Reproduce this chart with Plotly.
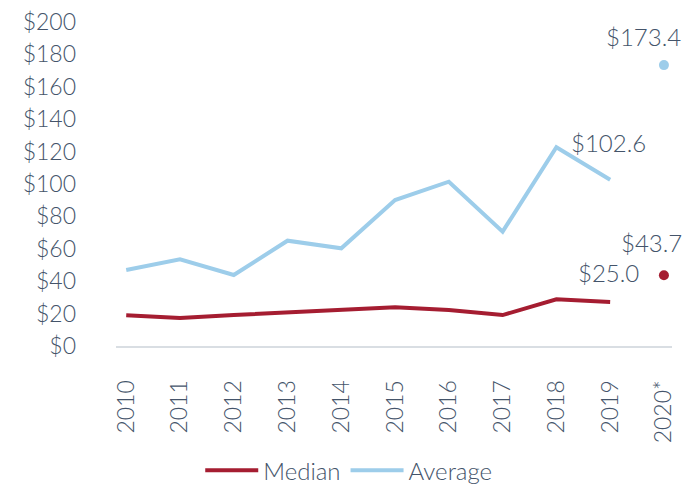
import plotly.graph_objects as go

categories = ["2010", "2011", "2012", "2013", "2014", "2015", "2016", "2017", "2018", "2019", "2020*"]
median_vals = [19.0, 17.3, 19.1, 20.8, 22.6, 23.9, 22.2, 19.1, 28.8, 27.2]
average_vals = [46.9, 53.5, 43.8, 65.0, 60.3, 90.1, 101.4, 70.6, 122.7, 102.6]
median_2020 = 43.7
average_2020 = 173.4
y_ticks = [0, 20, 40, 60, 80, 100, 120, 140, 160, 180, 200]

RED = "#A51D31"
BLUE = "#9DCDEA"
TXT = "#44546A"
FONT = "Lato Light, Lato, sans-serif"

idx = list(range(len(categories)))

fig = go.Figure()
fig.add_trace(go.Scatter(x=idx[:10], y=median_vals, mode="lines", name="Median",
                         line=dict(color=RED, width=4)))
fig.add_trace(go.Scatter(x=idx[:10], y=average_vals, mode="lines", name="Average",
                         line=dict(color=BLUE, width=4)))
fig.add_trace(go.Scatter(x=[idx[10]], y=[median_2020], mode="markers", showlegend=False,
                         marker=dict(color=RED, size=10)))
fig.add_trace(go.Scatter(x=[idx[10]], y=[average_2020], mode="markers", showlegend=False,
                         marker=dict(color=BLUE, size=10)))

labels = [
    (idx[10], average_2020, f"${average_2020:.1f}", -20, 29),
    (idx[9], average_vals[9], f"${average_vals[9]:.1f}", -2, 37),
    (idx[10], median_2020, f"${median_2020:.1f}", -12, 33),
    (idx[9], median_vals[9], "$25.0", -2, 29),
]
for x, y, t, xs, ys in labels:
    fig.add_annotation(x=x, y=y, text=t, showarrow=False, xshift=xs, yshift=ys,
                       font=dict(family=FONT, size=24, color=TXT))

fig.update_layout(
    width=700, height=493,
    margin=dict(l=108, r=36, t=14, b=155, autoexpand=False),
    paper_bgcolor="white", plot_bgcolor="white",
    font=dict(family=FONT, size=24, color=TXT),
    legend=dict(orientation="h", x=0.4186, xanchor="center", y=-0.385, yanchor="middle",
                font=dict(family=FONT, size=24, color=TXT), itemwidth=53),
    xaxis=dict(range=[-0.19, 10.15], tickvals=idx, ticktext=categories,
               showgrid=False, showline=True, linecolor="#D9DEE3", automargin=False,
               linewidth=2, tickangle=-90, ticklabelstandoff=23, zeroline=False,
               tickfont=dict(size=23), ticklabeloverflow="allow"),
    yaxis=dict(range=[0, 200], tickvals=y_ticks, ticktext=[f"${v}" for v in y_ticks],
               showgrid=False, zeroline=False, showline=False, ticklabelstandoff=39,
               automargin=False, tickfont=dict(size=23), ticklabeloverflow="allow"),
)

fig.write_html("out.html")
